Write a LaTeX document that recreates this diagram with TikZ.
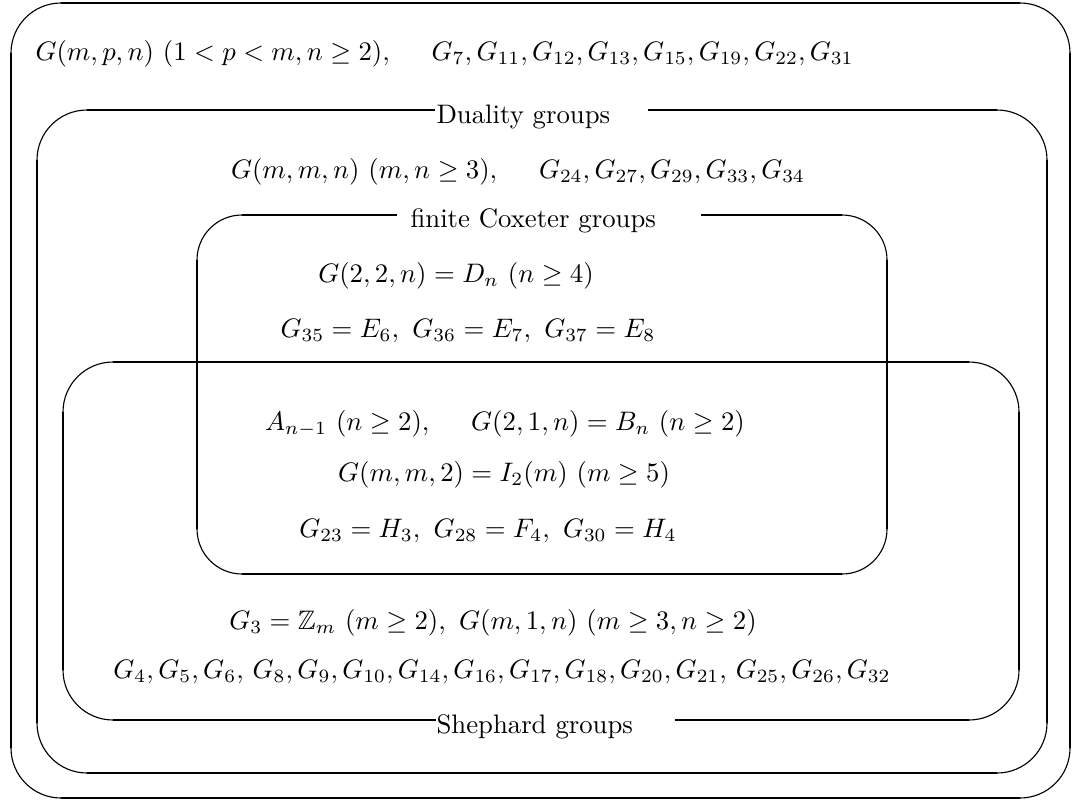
\documentclass[tikz,border=0pt]{standalone}
\usepackage{amsmath,amssymb}
\newcommand\rcorners[5]{%
 \draw[corner] (#1,#4-#5) arc[start angle=180,end angle=90,radius=#5];
 \draw[corner] (#3-#5,#4) arc[start angle=90,end angle=0,radius=#5];
 \draw[corner] (#3,#2+#5) arc[start angle=0,end angle=-90,radius=#5];
 \draw[corner] (#1+#5,#2) arc[start angle=270,end angle=180,radius=#5];
 \draw[side] (#1,#2+#5) -- (#1,#4-#5);
 \draw[side] (#3,#2+#5) -- (#3,#4-#5);}
\begin{document}
\begin{tikzpicture}[x=0.374pt,y=0.374pt,
  side/.style={line width=0.8pt},
  corner/.style={line width=0.42pt},
  txt/.style={inner sep=0pt, anchor=base},
  lbl/.style={inner sep=0pt, anchor=base west}]
\useasboundingbox (0,0) rectangle (1072,800);
% box 1 (outer)
\rcorners{11}{2}{1070}{797}{50}
\draw[side] (61,797) -- (1020,797);
\draw[side] (61,2) -- (1020,2);
% box 2 (duality groups)
\rcorners{37}{27}{1047}{690}{50}
\draw[side] (87,690) -- (435,690);
\draw[side] (648,690) -- (997,690);
\draw[side] (87,27) -- (997,27);
\node[lbl] (dual) at (436,677) {Duality groups};
% box 3 (finite Coxeter groups)
\rcorners{197}{226}{887}{585}{45}
\draw[side] (242,585) -- (397,585);
\draw[side] (701,585) -- (842,585);
\draw[side] (242,226) -- (842,226);
\node[lbl] (cox) at (410,573) {finite Coxeter groups};
% box 4 (Shephard groups)
\rcorners{63}{80}{1019}{438}{50}
\draw[side] (113,438) -- (969,438);
\draw[side] (113,80) -- (436,80);
\draw[side] (675,80) -- (969,80);
\node[lbl] (shep) at (436,67) {Shephard groups};
% texts
\node[lbl] (t1) at (35,740) {$G(m,p,n)\ (1<p<m,n\geq 2),\hspace{14pt}G_7,G_{11},G_{12},G_{13},G_{15},G_{19},G_{22},G_{31}$};
\node[txt] (t2) at (518,622) {$G(m,m,n)\ (m,n\geq 3),\hspace{14pt}G_{24},G_{27},G_{29},G_{33},G_{34}$};
\node[txt] (t3) at (456,518) {$G(2,2,n)=D_n\ (n\geq 4)$};
\node[txt] (t4) at (468,463) {$G_{35}=E_6,\ G_{36}=E_7,\ G_{37}=E_8$};
\node[txt] (t5) at (505,370) {$A_{n-1}\ (n\geq 2),\hspace{14pt}G(2,1,n)=B_n\ (n\geq 2)$};
\node[txt] (t6) at (504,319) {$G(m,m,2)=I_2(m)\ (m\geq 5)$};
\node[txt] (t7) at (488,263) {$G_{23}=H_3,\ G_{28}=F_4,\ G_{30}=H_4$};
\node[txt] (t8) at (493,171) {$G_3=\mathbb{Z}_m\ (m\geq 2),\ G(m,1,n)\ (m\geq 3,n\geq 2)$};
\node[txt] (t9) at (502,122) {$G_4,G_5,G_6,\,G_8,G_9,G_{10},G_{14},G_{16},G_{17},G_{18},G_{20},G_{21},\,G_{25},G_{26},G_{32}$};
\end{tikzpicture}
\end{document}
